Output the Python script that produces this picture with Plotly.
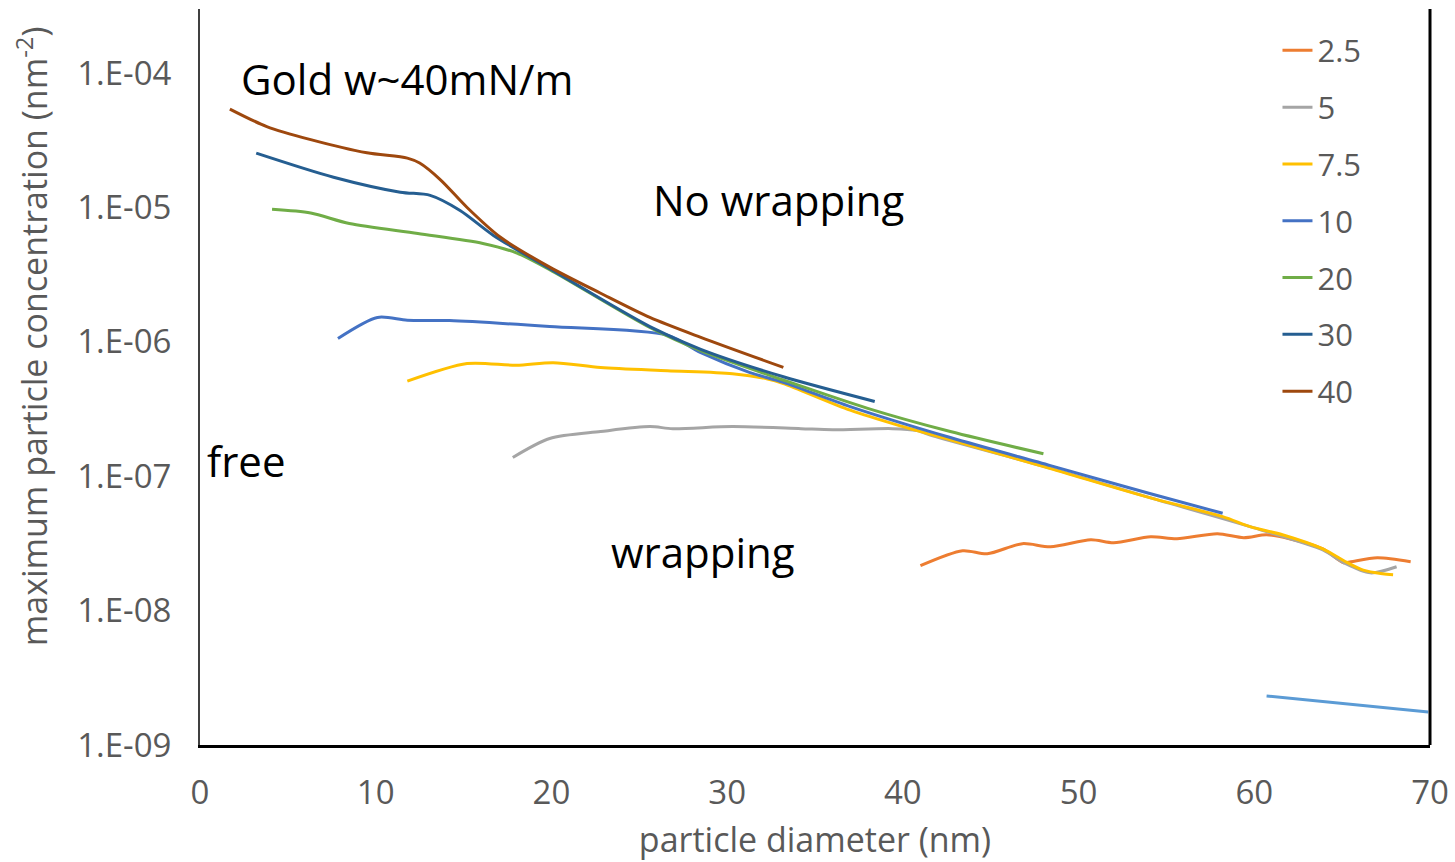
import plotly.graph_objects as go

# ---- data ----
series_names = ["2.5", "5", "7.5", "10", "20", "30", "40"]
series_colors = ["#ED7D31", "#A5A5A5", "#FFC000", "#4472C4", "#70AD47", "#255E91", "#9E480E"]

x25 = [41.0, 43.4, 44.8, 46.8, 48.4, 50.7, 52.0, 54.1, 55.6, 57.9, 59.4, 60.7, 62.0, 63.9, 65.1, 65.5, 67.0, 68.9]
y25 = [2.16e-8, 2.79e-8, 2.65e-8, 3.15e-8, 2.99e-8, 3.37e-8, 3.2e-8, 3.55e-8, 3.43e-8, 3.73e-8, 3.49e-8,
       3.67e-8, 3.43e-8, 2.88e-8, 2.27e-8, 2.31e-8, 2.47e-8, 2.31e-8]

x5 = [17.8, 19.9, 22.8, 25.6, 26.9, 30.3, 34.2, 36.0, 39.4, 40.8, 41.7, 48.4, 54.1, 59.8, 63.9, 65.1, 66.6, 68.1]
y5 = [1.38e-7, 1.91e-7, 2.15e-7, 2.34e-7, 2.26e-7, 2.34e-7, 2.26e-7, 2.22e-7, 2.26e-7, 2.19e-7, 2.0e-7,
      1.15e-7, 6.9e-8, 4.2e-8, 2.83e-8, 2.27e-8, 1.91e-8, 2.12e-8]

x75 = [11.8, 15.2, 18.0, 20.1, 22.8, 26.6, 30.3, 32.3, 33.2, 37.0, 39.8, 42.7, 48.4, 54.1, 58.2, 59.8,
       61.6, 63.9, 65.1, 66.2, 67.3, 67.9]
y75 = [5.1e-7, 6.9e-7, 6.7e-7, 7.0e-7, 6.45e-7, 6.1e-7, 5.8e-7, 5.3e-7, 4.9e-7, 3.1e-7, 2.38e-7, 1.87e-7,
       1.14e-7, 6.9e-8, 5.0e-8, 4.2e-8, 3.67e-8, 2.88e-8, 2.35e-8, 2.0e-8, 1.88e-8, 1.85e-8]

x10 = [7.85, 10.1, 11.8, 14.2, 19.9, 26.6, 28.5, 31.3, 33.2, 37.0, 42.7, 48.4, 54.1, 58.2]
y10 = [1.06e-6, 1.52e-6, 1.45e-6, 1.44e-6, 1.3e-6, 1.12e-6, 8.3e-7, 5.9e-7, 5.0e-7, 3.3e-7, 1.94e-7,
       1.2e-7, 7.4e-8, 5.3e-8]

x20 = [4.1, 6.3, 8.5, 12.4, 16.1, 18.0, 19.9, 25.6, 28.5, 33.2, 38.0, 42.7, 48.0]
y20 = [9.7e-6, 9.1e-6, 7.6e-6, 6.4e-6, 5.4e-6, 4.6e-6, 3.45e-6, 1.28e-6, 8.6e-7, 5.2e-7, 3.2e-7, 2.15e-7, 1.47e-7]

x30 = [3.2, 7.6, 11.4, 13.1, 14.8, 16.7, 19.9, 25.6, 28.5, 33.2, 38.4]
y30 = [2.54e-5, 1.68e-5, 1.30e-5, 1.23e-5, 9.5e-6, 6.2e-6, 3.5e-6, 1.3e-6, 8.8e-7, 5.5e-7, 3.6e-7]

x40 = [1.7, 3.8, 6.3, 9.5, 11.8, 12.5, 13.7, 15.2, 17.1, 19.9, 22.8, 25.6, 28.5, 33.2]
y40 = [5.4e-5, 4.0e-5, 3.2e-5, 2.55e-5, 2.33e-5, 2.14e-5, 1.6e-5, 1.0e-5, 6.0e-6, 3.6e-6, 2.3e-6,
       1.52e-6, 1.08e-6, 6.45e-7]

x_extra = [60.7, 69.9]
y_extra = [2.32e-9, 1.76e-9]
extra_color = "#5B9BD5"

series_x = [x25, x5, x75, x10, x20, x30, x40]
series_y = [y25, y5, y75, y10, y20, y30, y40]

y_tickvals = [1e-9, 1e-8, 1e-7, 1e-6, 1e-5, 1e-4]
y_ticktext = ["1.E-09", "1.E-08", "1.E-07", "1.E-06", "1.E-05", "1.E-04"]
x_tickvals = [0, 10, 20, 30, 40, 50, 60, 70]

x_title = "particle diameter (nm)"
y_title = "maximum particle concentration (nm<sup>-2</sup>)"

notes = [
    ("Gold w~40mN/m", 11.8, -4.04),
    ("No wrapping", 32.9, -4.94),
    ("free", 2.6, -6.88),
    ("wrapping", 28.6, -7.56),
]

FONT = "Open Sans"
GRAY = "#595959"

fig = go.Figure()
for name, color, xs, ys in zip(series_names, series_colors, series_x, series_y):
    fig.add_trace(go.Scatter(
        x=xs, y=ys, name=name, mode="lines", legendgroup=name,
        line=dict(color=color, width=3, shape="spline", smoothing=0.8),
    ))
fig.add_trace(go.Scatter(
    x=x_extra, y=y_extra, mode="lines", showlegend=False,
    line=dict(color=extra_color, width=3),
))

for text, xv, yv in notes:
    fig.add_annotation(text=text, x=xv, y=yv, xref="x", yref="y", showarrow=False,
                       font=dict(family=FONT, size=42, color="black"),
                       xanchor="center", yanchor="middle")

# y axis title (placed as rotated text to match the reference position)
fig.add_annotation(text=y_title, x=-0.136, y=0.555, xref="paper", yref="paper",
                   showarrow=False, textangle=-90, xanchor="center", yanchor="middle",
                   font=dict(family=FONT, size=34, color=GRAY))

# right border of plot area
fig.add_shape(type="line", xref="paper", yref="paper", x0=1, x1=1, y0=0, y1=1,
              line=dict(color="black", width=3))

fig.update_layout(
    width=1455, height=862,
    margin=dict(l=200, r=25, t=9, b=117, autoexpand=False),
    paper_bgcolor="white", plot_bgcolor="white",
    font=dict(family=FONT, size=31, color=GRAY),
    showlegend=True,
    legend=dict(x=0.876, y=0.98, xanchor="left", yanchor="top",
                bgcolor="rgba(0,0,0,0)", font=dict(family=FONT, size=31, color=GRAY),
                tracegroupgap=13.5, traceorder="grouped"),
    xaxis=dict(range=[0, 70], tickvals=x_tickvals, showgrid=False, zeroline=False,
               showline=True, linecolor="black", linewidth=3,
               ticks="outside", ticklen=16, tickcolor="rgba(0,0,0,0)",
               tickfont=dict(family=FONT, size=33, color=GRAY),
               title=dict(text=x_title, font=dict(family=FONT, size=34, color=GRAY), standoff=20),
               automargin=False),
    yaxis=dict(type="log", range=[-9, -3.523], tickvals=y_tickvals, ticktext=y_ticktext,
               showgrid=False, zeroline=False,
               showline=True, linecolor="#404040", linewidth=2,
               ticks="outside", ticklen=20, tickcolor="rgba(0,0,0,0)",
               tickfont=dict(family=FONT, size=33, color=GRAY),
               automargin=False),
)

fig.write_html("out.html")
